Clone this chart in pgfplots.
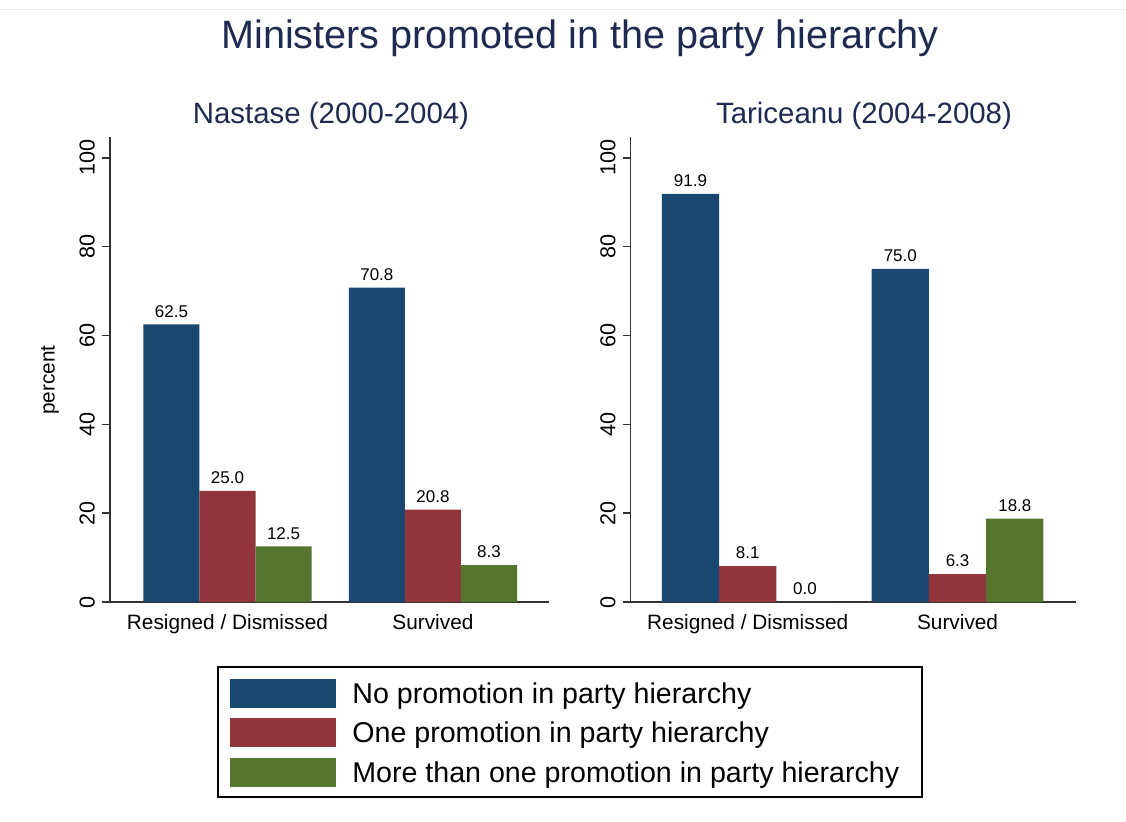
\documentclass[border=0pt]{standalone}
\usepackage{fontspec}
\setmainfont{Liberation Sans}
\usepackage{pgfplots}
\pgfplotsset{compat=1.18}

\definecolor{stnavy}{RGB}{26,71,111}
\definecolor{stmaroon}{RGB}{144,53,59}
\definecolor{stgreen}{RGB}{85,117,47}
\definecolor{titleblue}{RGB}{30,42,80}
\definecolor{axisgray}{RGB}{50,50,50}

\pgfplotsset{
  panel/.style={
    scale only axis, height=232.5pt,
    ymin=0, ymax=104.7,
    ybar, bar width=0.273,
    axis x line*=bottom, axis y line*=left,
    axis line style={axisgray, line width=0.7pt},
    ytick={0,20,...,100}, xtick={0,1},
    xticklabels={Resigned / Dismissed, Survived},
    x tick style={draw=none},
    y tick style={axisgray, line width=0.7pt},
    tick align=outside, major tick length=4pt,
    /pgf/number format/assume math mode=true,
    yticklabel style={rotate=90, anchor=south, font=\fontsize{10.8}{12}\selectfont},
    xticklabel style={font=\fontsize{10.4}{12}\selectfont, yshift=1.5pt},
    nodes near coords={\pgfmathprintnumber[fixed,fixed zerofill,precision=1]{\pgfplotspointmeta}},
    nodes near coords style={font=\fontsize{8.5}{10}\selectfont, text=black},
  },
  bnavy/.style={fill=stnavy, draw=none, bar shift=-0.273},
  bmaroon/.style={fill=stmaroon, draw=none, bar shift=0},
  bgreen/.style={fill=stgreen, draw=none, bar shift=0.273},
}

\begin{document}
\begin{tikzpicture}
\path[use as bounding box] (0,0) rectangle (563pt,410.5pt);
\draw[color={rgb,255:red,230;green,238;blue,238}, line width=0.5pt] (0,405.5pt) -- (563pt,405.5pt);

% left panel
\begin{axis}[panel, at={(55pt,109.5pt)}, anchor=south west,
  width=219.5pt, xmin=-0.572, xmax=1.565]
\addplot[bnavy] coordinates {(0,62.5) (1,70.8)};
\addplot[bmaroon] coordinates {(0,25.0) (1,20.8)};
\addplot[bgreen] coordinates {(0,12.5) (1,8.3)};
\end{axis}

% right panel
\begin{axis}[panel, at={(315.35pt,109.5pt)}, anchor=south west,
  width=222.5pt, xmin=-0.558, xmax=1.563]
\addplot[bnavy] coordinates {(0,91.9) (1,75.0)};
\addplot[bmaroon] coordinates {(0,8.1) (1,6.3)};
\addplot[bgreen] coordinates {(0,0.0) (1,18.8)};
\end{axis}

% titles
\node[text=titleblue, font=\fontsize{19.8}{24}\selectfont] at (290pt,391.5pt) {Ministers promoted in the party hierarchy};
\node[text=titleblue, font=\fontsize{14.7}{18}\selectfont] at (165.5pt,352.5pt) {Nastase (2000-2004)};
\node[text=titleblue, font=\fontsize{14.7}{18}\selectfont] at (432pt,352.5pt) {Tariceanu (2004-2008)};
\node[rotate=90, font=\fontsize{10.4}{12}\selectfont] at (25pt,220.5pt) {percent};

% legend
\draw[black, line width=0.6pt] (109pt,77pt) rectangle (461pt,12pt);
\fill[stnavy] (115pt,56.5pt) rectangle (168pt,71pt);
\fill[stmaroon] (115pt,37pt) rectangle (168pt,51.5pt);
\fill[stgreen] (115pt,17pt) rectangle (168pt,31.5pt);
\begin{scope}[font=\fontsize{14.3}{17}\selectfont]
\node[anchor=west, inner sep=0pt] at (176pt,62.25pt) {No promotion in party hierarchy};
\node[anchor=west, inner sep=0pt] at (176pt,42.75pt) {One promotion in party hierarchy};
\node[anchor=west, inner sep=0pt] at (176pt,22.75pt) {More than one promotion in party hierarchy};
\end{scope}
\end{tikzpicture}
\end{document}
